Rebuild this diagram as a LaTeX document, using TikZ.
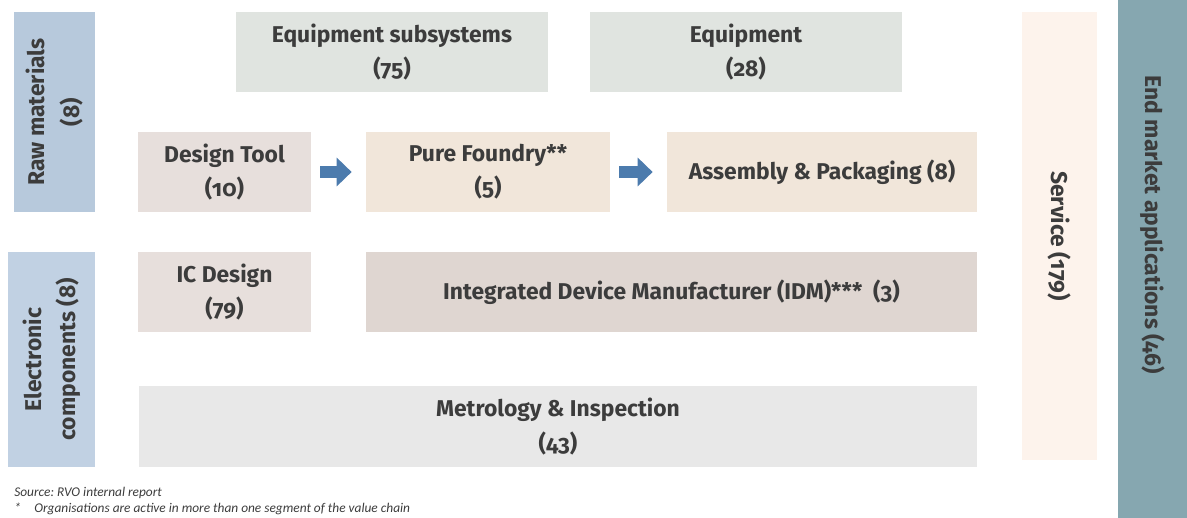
\documentclass[tikz,border=0pt]{standalone}
\usepackage{fontspec}
\setmainfont{Fira Sans}[Numbers=OldStyle]
\newfontfamily\notefont{Carlito}
\usetikzlibrary{arrows.meta}
\frenchspacing

\definecolor{rawblue}{HTML}{B7C9DC}
\definecolor{elecblue}{HTML}{C1D1E3}
\definecolor{equipgray}{HTML}{E0E4E0}
\definecolor{designrose}{HTML}{E7DFDC}
\definecolor{foundrysand}{HTML}{F1E6DA}
\definecolor{idmtaupe}{HTML}{DFD6D1}
\definecolor{metrogray}{HTML}{E8E8E8}
\definecolor{servicecream}{HTML}{FDF3EC}
\definecolor{endteal}{HTML}{86A7B0}
\definecolor{flowblue}{HTML}{4C7BAD}
\definecolor{labelgray}{HTML}{3C3C3C}

\tikzset{
  segment/.style={inner sep=0pt, align=center, text=labelgray,
    font=\fontsize{13}{19.5}\selectfont\bfseries},
  note/.style={anchor=west, inner sep=0pt, text=labelgray,
    font=\notefont\fontsize{7.6}{9}\selectfont\itshape},
  flow/.style={draw=flowblue, line width=2.4mm,
    -{Triangle[length=3mm,width=5.6mm]}, shorten <=1.8mm, shorten >=2.8mm}
}

\begin{document}
\begin{tikzpicture}[x=0.2mm,y=-0.2mm]
        \useasboundingbox (0,0) rectangle (1187,518);

        % upstream suppliers
        \node[segment, fill=rawblue, minimum width=40mm, minimum height=16.2mm, rotate=90] (raw) at (54.5,112) {Raw materials\\(8)};
        \node[segment, fill=elecblue, minimum width=43mm, minimum height=17.4mm, rotate=90] (elec) at (51.5,359.5) {Electronic\\components (8)};

        \node[segment, fill=equipgray, minimum width=62.4mm, minimum height=16mm] (eqsub) at (392,52) {Equipment subsystems\\(75)};
        \node[segment, fill=equipgray, minimum width=62.4mm, minimum height=16mm] (equip) at (746,52) {Equipment\\(28)};

        % fabless chain
        \node[segment, fill=designrose, minimum width=34.6mm, minimum height=16mm] (dtool) at (224.5,172) {Design Tool\\(10)};
        \node[segment, fill=foundrysand, minimum width=48.8mm, minimum height=16mm] (foundry) at (488,172) {Pure Foundry**\\(5)};
        \node[segment, fill=foundrysand, minimum width=62mm, minimum height=16mm] (assembly) at (822,172) {Assembly \& Packaging (8)};

        \draw[flow] (dtool.east) -- (foundry.west);
        \draw[flow] (foundry.east) -- (assembly.west);

        % integrated chain
        \node[segment, fill=designrose, minimum width=34.6mm, minimum height=16mm] (icdesign) at (224.5,292) {IC Design\\(79)};
        \node[segment, fill=idmtaupe, minimum width=122.2mm, minimum height=16mm] (idm) at (671.5,292) {Integrated Device Manufacturer (IDM)***~~(3)};

        \node[segment, fill=metrogray, minimum width=167.6mm, minimum height=16.2mm] (metro) at (558,426.5) {Metrology \& Inspection\\(43)};

        % right hand columns (label of the last one sits above its middle)
        \node[segment, fill=servicecream, minimum width=89.6mm, minimum height=15mm, rotate=-90] (service) at (1059.5,236) {Service (179)};
        \node[segment, fill=endteal, minimum width=103.6mm, minimum height=13.8mm, rotate=-90] (endmkt) at (1152.5,259) {End market applications (46)\kern13.6mm};

        % notes
        \node[note] (source) at (14,493) {Source: RVO internal report};
        \node[note] (asterisk) at (14,509) {*\quad Organisations are active in more than one segment of the value chain};
\end{tikzpicture}
\end{document}
